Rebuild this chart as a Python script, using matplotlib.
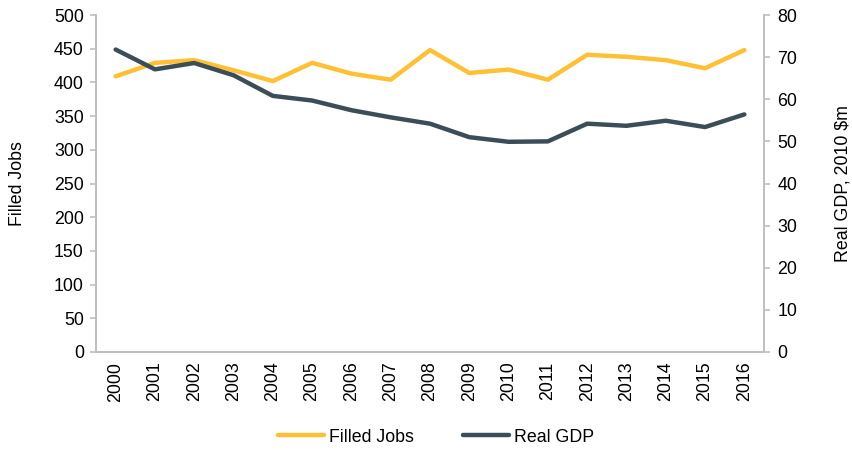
import matplotlib
matplotlib.use("Agg")
import matplotlib.pyplot as plt

plt.rcParams['font.family'] = ['Liberation Sans', 'DejaVu Sans']

years = [str(y) for y in range(2000, 2017)]
filled_jobs = [409, 429, 433, 418, 402, 429, 413, 404, 448, 414, 419, 404, 441, 438, 433, 421, 448]
real_gdp = [71.8, 67.1, 68.6, 65.7, 60.8, 59.7, 57.4, 55.7, 54.2, 51.0, 49.9, 50.0, 54.2, 53.7, 54.9, 53.4, 56.4]

yellow = '#FFC133'
dark = '#3B4E57'
grey = '#BFBFBF'

fig = plt.figure(figsize=(8.53, 4.5), dpi=100)
ax = fig.add_axes([96/853, 1-352/450, (764-96)/853, (352-15)/450])
ax2 = ax.twinx()

x = list(range(len(years)))
l1, = ax.plot(x, filled_jobs, color=yellow, lw=3.2, label='Filled Jobs', solid_capstyle='round')
l2, = ax2.plot(x, real_gdp, color=dark, lw=3.2, label='Real GDP', solid_capstyle='round')

ax.set_xlim(-0.5, len(years) - 0.5)
ax.set_ylim(0, 500)
ax2.set_ylim(0, 80)
ax.set_yticks(range(0, 501, 50))
ax2.set_yticks(range(0, 81, 10))
ax.set_xticks(x)
ax.set_xticklabels(years, rotation=90)

fs = 12.8
for a in (ax, ax2):
    for s in a.spines.values():
        s.set_color(grey)
        s.set_linewidth(1.2)
    a.spines['top'].set_visible(False)
ax.tick_params(axis='y', labelsize=fs, color=grey, length=4.3, width=1.2, pad=4.5)
ax2.tick_params(axis='y', labelsize=fs, color=grey, length=4.3, width=1.2, pad=5.5)
ax.tick_params(axis='x', labelsize=fs, length=0, pad=7)

ax.set_ylabel('Filled Jobs', fontsize=fs, labelpad=20)
ax2.set_ylabel('Real GDP, 2010 $m', fontsize=fs, labelpad=27)

fig.legend(handles=[l1, l2], loc='center', bbox_to_anchor=(436/853, 1-437/450),
           ncol=2, frameon=False, fontsize=fs, handlelength=2.6, handletextpad=0.25,
           columnspacing=2.8)

fig.savefig('out.png', dpi=100)
